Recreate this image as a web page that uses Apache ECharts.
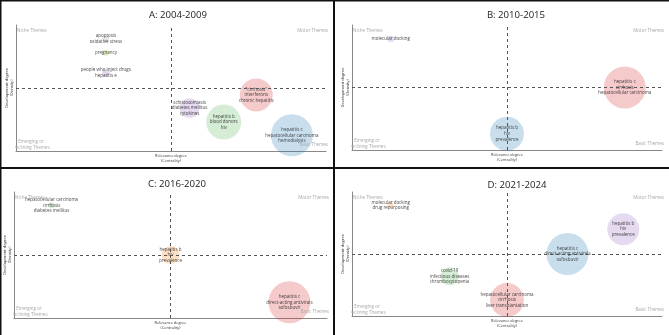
<!DOCTYPE html>
<html>
<head>
<meta charset="utf-8">
<script src="https://cdn.jsdelivr.net/npm/echarts@6/dist/echarts.min.js"></script>
<style>
  html, body { margin: 0; padding: 0; background: #fff; }
  #chart { width: 669px; height: 335px; }
</style>
</head>
<body>
<div id="chart"></div>
<script>
// thematic maps, 4 periods. centrality / density are read off the picture,
// normalised so the dashed median lines sit at 0
var titles = ['A: 2004-2009', 'B: 2010-2015', 'C: 2016-2020', 'D: 2021-2024'];

var labelsA = ['apoptosis\noxidative stress', 'pregnancy', 'people who inject drugs\nhepatitis e',
  'schistosomiasis\ndiabetes mellitus\ncytokines', 'hepatitis b\nblood donors\nhiv',
  '"cirrhosis"\ninterferons\nchronic hepatitis', 'hepatitis c\nhepatocellular carcinoma\nhemodialysis'];
var centralityA = [-0.42, -0.42, -0.42, 0.12, 0.34, 0.55, 0.78];
var densityA = [0.78, 0.56, 0.24, -0.32, -0.54, -0.11, -0.75];
var freqA = [5, 4, 6, 44, 136, 121, 196];

var labelsB = ['molecular docking', 'hepatitis c\ncirrhosis\nhepatocellular carcinoma', 'hepatitis b\nhiv\nprevalence'];
var centralityB = [-0.75, 0.76, 0.0];
var densityB = [0.78, 0.0, -0.74];
var freqB = [5, 196, 128];

var labelsC = ['hepatocellular carcinoma\ncirrhosis\ndiabetes mellitus', 'hepatitis b\nhiv\nprevalence',
  'hepatitis c\ndirect-acting antivirals\nsofosbuvir'];
var centralityC = [-0.76, 0.0, 0.76];
var densityC = [0.79, 0.0, -0.75];
var freqC = [4, 36, 196];

var labelsD = ['molecular docking\ndrug repurposing', 'hepatitis b\nhiv\nprevalence',
  'hepatitis c\ndirect-acting antivirals\nsofosbuvir', 'covid-19\ninfectious diseases\nthrombocytopenia',
  'hepatocellular carcinoma\ncirrhosis\nliver transplantation'];
var centralityD = [-0.75, 0.75, 0.39, -0.37, 0.0];
var densityD = [0.79, 0.40, 0.0, -0.36, -0.74];
var freqD = [4, 114, 196, 36, 128];

// colours (matplotlib-ish, faded)
var blue = 'rgba(31,119,180,0.3)', red = 'rgba(214,39,40,0.3)', green = 'rgba(44,160,44,0.25)',
    purple = 'rgba(148,103,189,0.3)', orange = 'rgba(255,127,14,0.3)', gray = 'rgba(127,127,127,0.25)',
    lime = 'rgba(140,200,40,0.35)';
var paletteA = [gray, lime, purple, purple, green, red, blue];
var paletteB = [purple, red, blue];
var paletteC = [green, orange, red];
var paletteD = [orange, purple, blue, green, red];

var FONT = 'Open Sans';

// panel layout: [panelX, panelY, gridLeft, gridTop, gridWidth, gridHeight, titleX, titleY]
var panels = [
  [0, 0, 16, 25, 310, 126, 173, 5],
  [334, 0, 352, 25, 310, 125, 511, 5],
  [0, 167, 14, 192, 313, 126, 172, 174],
  [334, 167, 352, 192, 310, 124, 512, 175]
];
var sets = [
  [labelsA, centralityA, densityA, freqA, paletteA],
  [labelsB, centralityB, densityB, freqB, paletteB],
  [labelsC, centralityC, densityC, freqC, paletteC],
  [labelsD, centralityD, densityD, freqD, paletteD]
];

var option = {
  animation: false,
  textStyle: { fontFamily: FONT },
  title: [], grid: [], xAxis: [], yAxis: [], series: [], graphic: []
};

panels.forEach(function (p, i) {
  var gl = p[2], gt = p[3], gw = p[4], gh = p[5];
  option.title.push({
    text: titles[i], left: p[6], top: p[7], textAlign: 'center',
    textStyle: { fontFamily: FONT, fontSize: 9.6, fontWeight: 'normal', color: '#222' }
  });
  option.grid.push({ left: gl, top: gt, width: gw, height: gh });
  option.xAxis.push({
    gridIndex: i, type: 'value', min: -1, max: 1,
    name: 'Relevance degree\n(Centrality)', nameLocation: 'middle', nameGap: 2.5,
    nameTextStyle: { fontFamily: FONT, fontSize: 3.9, color: '#333', lineHeight: 5.2, verticalAlign: 'top' },
    axisLine: { onZero: false, lineStyle: { color: '#888', width: 1 } },
    axisTick: { show: false }, axisLabel: { show: false }, splitLine: { show: false }
  });
  option.yAxis.push({
    gridIndex: i, type: 'value', min: -1, max: 1,
    name: 'Development degree\n(Density)', nameLocation: 'middle', nameGap: 2,
    nameTextStyle: { fontFamily: FONT, fontSize: 4.1, color: '#333', lineHeight: 5 },
    axisLine: { onZero: false, lineStyle: { color: '#888', width: 1 } },
    axisTick: { show: false }, axisLabel: { show: false }, splitLine: { show: false }
  });

  var s = sets[i];
  var data = s[0].map(function (name, k) {
    return { name: name, value: [s[1][k], s[2][k], s[3][k]], itemStyle: { color: s[4][k] } };
  });
  option.series.push({
    type: 'scatter', xAxisIndex: i, yAxisIndex: i, clip: true, silent: true,
    data: data,
    symbolSize: function (v) { return 3 * Math.sqrt(v[2]); },
    label: {
      show: true, position: 'inside', formatter: '{b}',
      fontFamily: FONT, fontSize: 4.5, lineHeight: 5.6, color: '#111'
    },
    markLine: {
      silent: true, symbol: 'none', label: { show: false },
      lineStyle: { type: [3, 3], color: '#555', width: 1 },
      data: [{ xAxis: 0 }, { yAxis: 0 }]
    }
  });

  // quadrant captions
  var gs = { fontFamily: FONT, fontSize: 4.5, fill: '#a8a8a8' };
  option.graphic.push(
    { type: 'text', left: gl + 1, top: gt + 3, style: Object.assign({ text: 'Niche Themes' }, gs), z: 10 },
    { type: 'text', right: 669 - (gl + gw + 2), top: gt + 3, style: Object.assign({ text: 'Motor Themes' }, gs), z: 10 },
    { type: 'text', right: 669 - (gl + gw + 2), top: gt + gh - 9, style: Object.assign({ text: 'Basic Themes' }, gs), z: 10 },
    { type: 'text', x: gl + 15, y: gt + gh - 12, style: Object.assign({ text: 'Emerging or\nDeclining Themes', align: 'center', lineHeight: 5.5 }, gs), z: 10 },
    // caption overflows the axis on the left: it is clipped there
    { type: 'rect', shape: { x: p[0] + 2, y: gt + gh - 13, width: gl - p[0] - 3, height: 12 }, style: { fill: '#fff' }, z: 11 }
  );
});

// panel frame lines
var frame = { stroke: '#111', lineWidth: 2 };
option.graphic.push(
  { type: 'line', shape: { x1: 0, y1: 0.5, x2: 669, y2: 0.5 }, style: frame, z: 20 },
  { type: 'line', shape: { x1: 0.5, y1: 0, x2: 0.5, y2: 335 }, style: frame, z: 20 },
  { type: 'line', shape: { x1: 334, y1: 0, x2: 334, y2: 335 }, style: frame, z: 20 },
  { type: 'line', shape: { x1: 0, y1: 168, x2: 669, y2: 168 }, style: frame, z: 20 }
);

var chart = echarts.init(document.getElementById('chart'));
chart.setOption(option);
</script>
</body>
</html>
